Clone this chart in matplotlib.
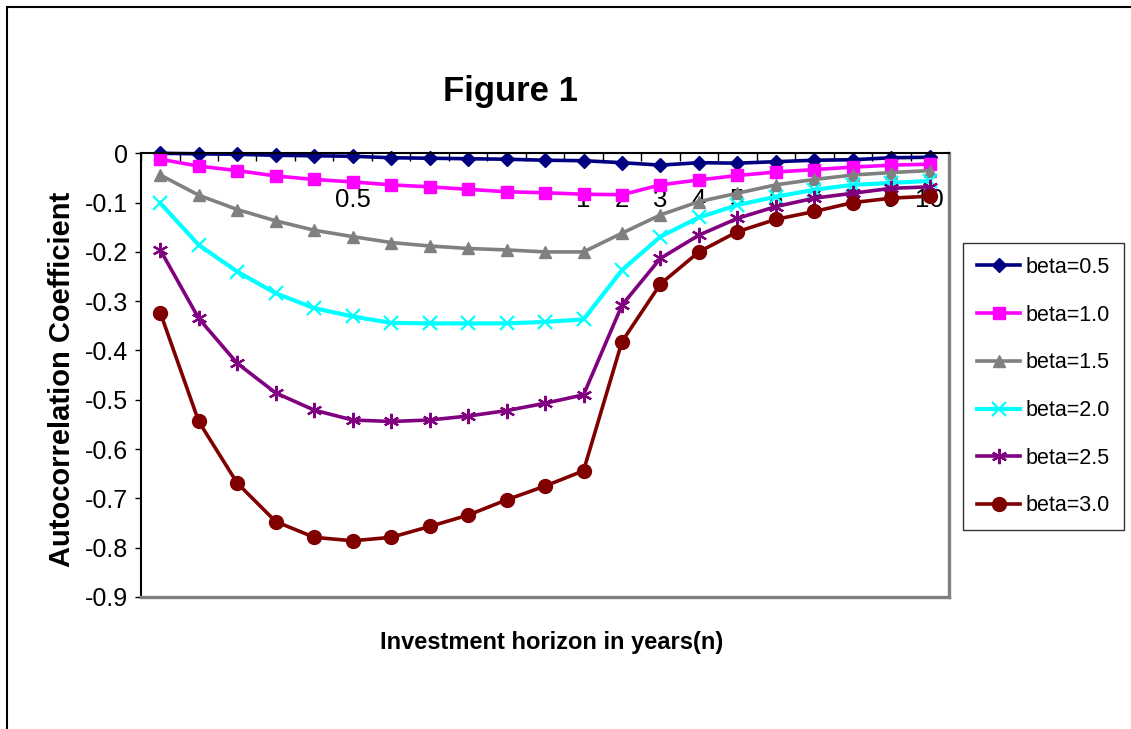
"""
Figure 1 - autocorrelation coefficient vs investment horizon for several betas
"""

import matplotlib
matplotlib.use('Agg')
import matplotlib.pyplot as plt
from matplotlib.patches import Rectangle

plt.rcParams['font.family'] = ['Liberation Sans', 'DejaVu Sans']
plt.rcParams['axes.unicode_minus'] = False

# 12 monthly horizons (1/12 .. 1 year) followed by 2..10 years
horizon_labels = ['', '', '', '', '', '0.5', '', '', '', '', '', '1',
                  '2', '3', '4', '5', '6', '7', '8', '9', '10']
y_ticks = [0, -0.1, -0.2, -0.3, -0.4, -0.5, -0.6, -0.7, -0.8, -0.9]
y_tick_labels = ['0', '-0.1', '-0.2', '-0.3', '-0.4', '-0.5', '-0.6', '-0.7', '-0.8', '-0.9']

series_names = ['beta=0.5', 'beta=1.0', 'beta=1.5', 'beta=2.0', 'beta=2.5', 'beta=3.0']
beta05 = [0.000, -0.001, -0.002, -0.004, -0.005, -0.006, -0.009, -0.010, -0.011, -0.012, -0.014,
          -0.015, -0.019, -0.024, -0.019, -0.020, -0.017, -0.014, -0.013, -0.009, -0.008]
beta10 = [-0.012, -0.026, -0.035, -0.046, -0.053, -0.058, -0.064, -0.068, -0.073, -0.078, -0.080,
          -0.083, -0.084, -0.064, -0.054, -0.045, -0.038, -0.033, -0.028, -0.024, -0.022]
beta15 = [-0.044, -0.085, -0.114, -0.137, -0.156, -0.169, -0.181, -0.188, -0.193, -0.196, -0.200,
          -0.200, -0.162, -0.125, -0.098, -0.081, -0.064, -0.053, -0.044, -0.039, -0.035]
beta20 = [-0.101, -0.186, -0.240, -0.284, -0.314, -0.331, -0.344, -0.345, -0.345, -0.345, -0.342,
          -0.337, -0.237, -0.169, -0.130, -0.105, -0.088, -0.074, -0.064, -0.060, -0.056]
beta25 = [-0.196, -0.335, -0.426, -0.486, -0.521, -0.541, -0.544, -0.541, -0.533, -0.522, -0.507,
          -0.490, -0.308, -0.213, -0.166, -0.132, -0.108, -0.091, -0.081, -0.071, -0.068]
beta30 = [-0.323, -0.544, -0.669, -0.747, -0.779, -0.786, -0.779, -0.757, -0.734, -0.703, -0.675,
          -0.644, -0.382, -0.265, -0.200, -0.159, -0.134, -0.118, -0.100, -0.091, -0.087]

styles = [
    dict(color='#000080', marker='D', markersize=7.5, lw=2.6),
    dict(color='#FF00FF', marker='s', markersize=9, lw=2.6),
    dict(color='#808080', marker='^', markersize=9, lw=2.6),
    dict(color='#00FFFF', marker='x', markersize=10, markeredgewidth=1.6, lw=3.0),
    dict(color='#800080', marker=(6, 2, 0), markersize=11, markeredgewidth=1.6, lw=2.6),
    dict(color='#800000', marker='o', markersize=10, lw=2.6),
]

fig = plt.figure(figsize=(11.31, 7.29), dpi=100)
ax = fig.add_axes([0.1247, 0.1811, 0.7144, 0.6086])

x = list(range(len(horizon_labels)))
for name, values, style in zip(series_names, [beta05, beta10, beta15, beta20, beta25, beta30], styles):
    ax.plot(x, values, label=name, clip_on=False, **style)

ax.set_xlim(-0.5, len(horizon_labels) - 0.5)
ax.set_ylim(-0.9, 0)

# category axis sits at y=0 (top), labels drawn just inside the plot
ax.set_xticks(x)
ax.set_xticklabels(horizon_labels)
ax.set_xticks([i - 0.5 for i in range(len(horizon_labels) + 1)], minor=True)
ax.tick_params(axis='x', which='major', top=True, bottom=False, labeltop=True, labelbottom=False,
               length=0, pad=-42, labelsize=18.5)
ax.tick_params(axis='x', which='minor', top=True, bottom=False, direction='in', length=6, width=1)

ax.set_yticks(y_ticks)
ax.set_yticklabels(y_tick_labels)
ax.tick_params(axis='y', which='major', direction='out', length=4.3, width=1, pad=5, labelsize=18)

ax.spines['top'].set_color('black')
ax.spines['top'].set_linewidth(1.5)
ax.spines['left'].set_color('black')
ax.spines['left'].set_linewidth(1.5)
for side in ['right', 'bottom']:
    ax.spines[side].set_color('#808080')
    ax.spines[side].set_linewidth(2.4)

fig.text(0.451, 1 - 101 / 729, 'Figure 1', ha='center', va='baseline', fontsize=25, fontweight='bold')
fig.text(62.5 / 1131, 1 - 379 / 729, 'Autocorrelation Coefficient', rotation=90,
         ha='center', va='center', fontsize=21, fontweight='bold')
fig.text(551.5 / 1131, 1 - 649.5 / 729, 'Investment horizon in years(n)', ha='center',
         va='baseline', fontsize=17, fontweight='bold')

legend = ax.legend(loc='upper left', bbox_to_anchor=(963 / 1131, 1 - 243 / 729),
                   bbox_transform=fig.transFigure, borderaxespad=0, fontsize=15.5,
                   frameon=True, fancybox=False, edgecolor='black', handlelength=2.0,
                   handletextpad=0.25, labelspacing=1.24, borderpad=0.65)
legend.get_frame().set_linewidth(1.0)

# outer chart frame (right and bottom edges fall outside the picture)
fig.add_artist(Rectangle((7 / 1131, -0.05), 1.1, 1.05 - 7 / 729, transform=fig.transFigure,
                         fill=False, edgecolor='black', linewidth=1.5))

plt.savefig('out.png', dpi=100)
plt.close(fig)
